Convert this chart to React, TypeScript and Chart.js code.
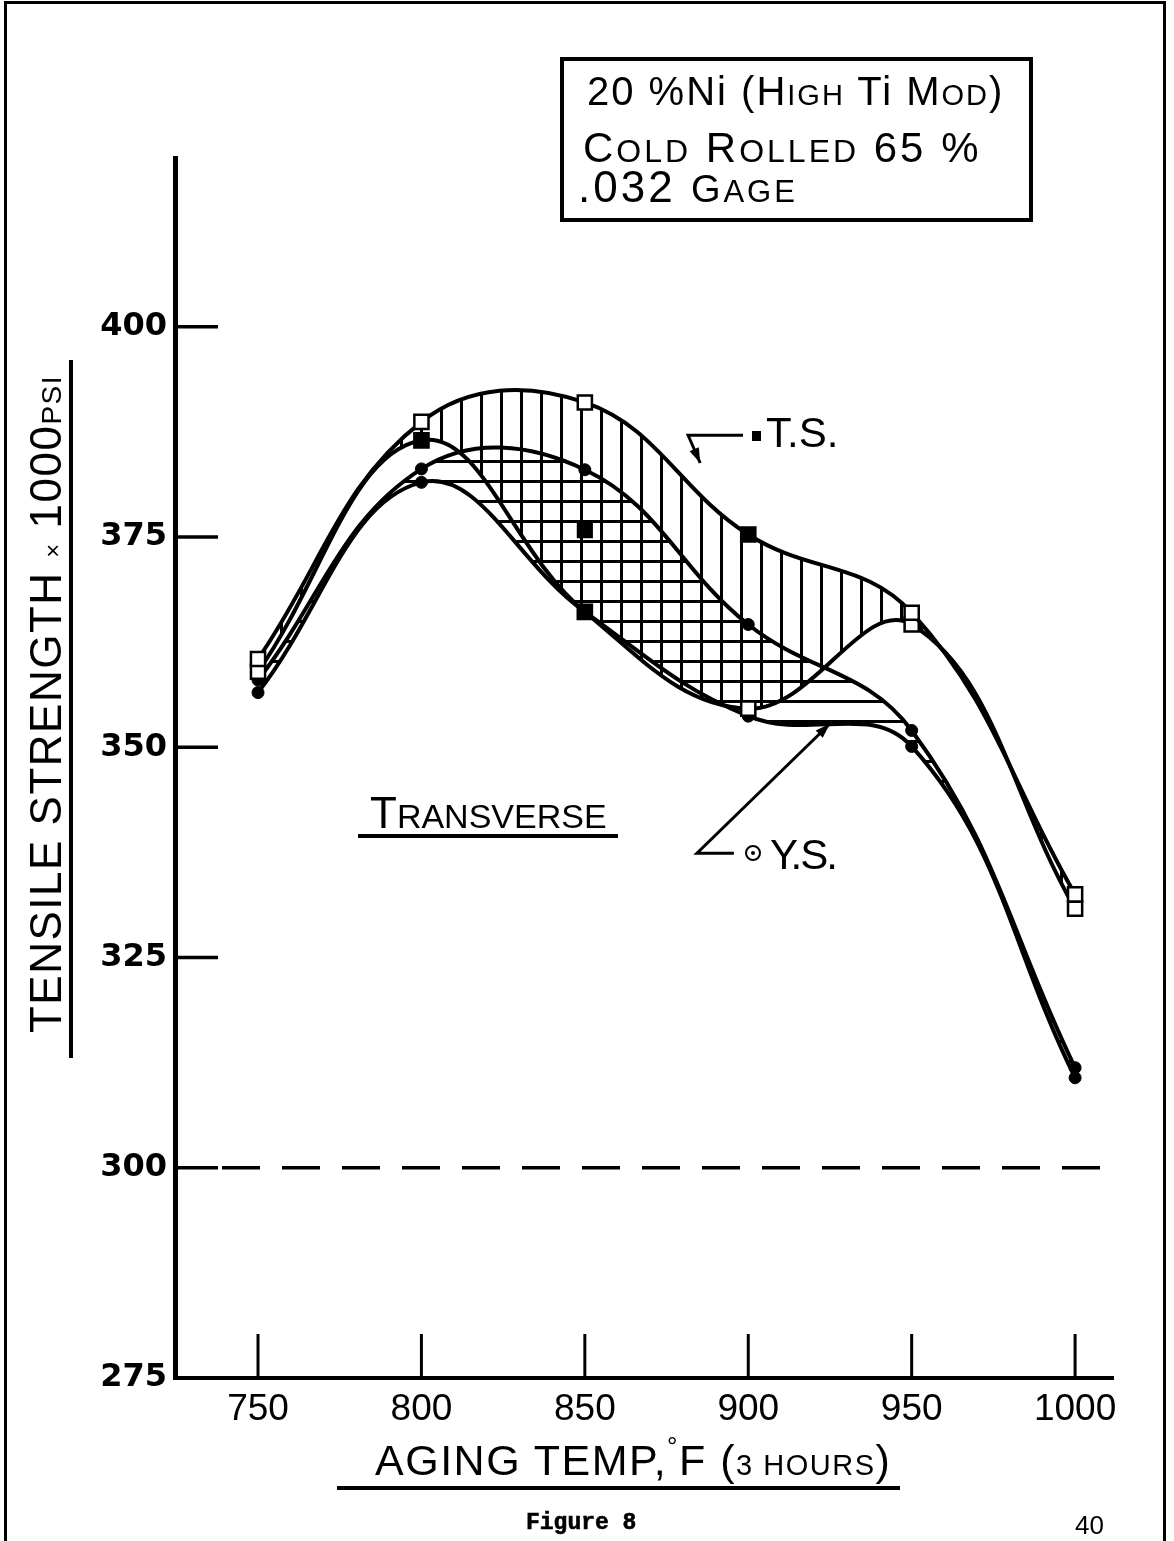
import React, { useEffect, useRef } from "react";
import { Chart, registerables } from "chart.js";

Chart.register(...registerables);

// ---------- data ----------
const TEMPS = [750, 800, 850, 900, 950, 1000];
const TS_UPPER = [360.5, 388.7, 391.0, 375.3, 366.0, 332.5];
const TS_LOWER = [359.0, 386.5, 366.1, 354.6, 364.6, 330.8];
const YS_UPPER = [358.0, 383.1, 383.0, 364.6, 352.0, 311.9];
const YS_LOWER = [356.5, 381.5, 366.1, 353.7, 350.1, 310.7];
const TS_EXTRA_TEMPS = [850];
const TS_EXTRA = [375.8];
const X_TICKS = [750, 800, 850, 900, 950, 1000];
const Y_TICKS = [275, 300, 325, 350, 375, 400];
const REFERENCE_LEVEL = 300;

// which markers are drawn solid
const TS_UPPER_SOLID = [false, false, false, true, false, false];
const TS_LOWER_SOLID = [false, true, true, false, false, false];

// annotation anchors (data coordinates)
const TS_POINTER = { end: [898.4, 387.1], elbow: [881.6, 387.1], tip: [885.3, 383.8] };
const YS_POINTER = { end: [895.6, 337.4], elbow: [884.3, 337.4], tip: [925.0, 352.8] };

const X_MIN = 724.6;
const X_MAX = 1011.6;
const Y_MIN = 275;
const Y_MAX = 420.07;

const W = 1174;
const H = 1541;

function makeHatch(kind: "v" | "h", spacing: number, lw: number): CanvasPattern | string {
  const c = document.createElement("canvas");
  c.width = spacing;
  c.height = spacing;
  const g = c.getContext("2d");
  if (!g) return "rgba(0,0,0,0)";
  g.fillStyle = "#000";
  if (kind === "v") g.fillRect(0, 0, lw, spacing);
  else g.fillRect(0, 0, spacing, lw);
  const p = g.createPattern(c, "repeat");
  return p || "rgba(0,0,0,0)";
}

const pts = (xs: number[], ys: number[]) => xs.map((x, i) => ({ x, y: ys[i] }));

function arrowHead(ctx: CanvasRenderingContext2D, fx: number, fy: number, tx: number, ty: number, len: number, half: number) {
  const ang = Math.atan2(ty - fy, tx - fx);
  const bx = tx - len * Math.cos(ang);
  const by = ty - len * Math.sin(ang);
  ctx.beginPath();
  ctx.moveTo(tx, ty);
  ctx.lineTo(bx + half * Math.sin(ang), by - half * Math.cos(ang));
  ctx.lineTo(bx - half * Math.sin(ang), by + half * Math.cos(ang));
  ctx.closePath();
  ctx.fill();
}

const overlayPlugin = {
  id: "overlay",
  beforeDatasetsDraw(chart: any) {
    const { ctx, chartArea: a, scales } = chart;
    const x = scales.x;
    const y = scales.y;
    ctx.save();
    ctx.strokeStyle = "#000";
    ctx.lineCap = "butt";
    // dashed 300 line
    const py = y.getPixelForValue(REFERENCE_LEVEL);
    ctx.lineWidth = 3.5;
    ctx.setLineDash([38, 22]);
    ctx.beginPath();
    ctx.moveTo(a.left + 47, py);
    ctx.lineTo(a.right, py);
    ctx.stroke();
    ctx.setLineDash([]);
    // inward tick marks
    ctx.lineWidth = 3.5;
    for (const v of Y_TICKS) {
      const p = y.getPixelForValue(v);
      ctx.beginPath();
      ctx.moveTo(a.left, p);
      ctx.lineTo(a.left + 43, p);
      ctx.stroke();
    }
    ctx.lineWidth = 3;
    for (const v of X_TICKS) {
      const p = x.getPixelForValue(v);
      ctx.beginPath();
      ctx.moveTo(p, a.bottom);
      ctx.lineTo(p, a.bottom - 44);
      ctx.stroke();
    }
    ctx.restore();
  },
  afterDatasetsDraw(chart: any) {
    const { ctx, scales } = chart;
    const x = scales.x;
    const y = scales.y;
    const P = (d: number[]) => [x.getPixelForValue(d[0]), y.getPixelForValue(d[1])];
    ctx.save();
    ctx.strokeStyle = "#000";
    ctx.fillStyle = "#000";
    ctx.lineWidth = 3;
    ctx.lineJoin = "miter";
    for (const ptr of [TS_POINTER, YS_POINTER]) {
      const [nx, ny] = P(ptr.end);
      const [ex, ey] = P(ptr.elbow);
      const [tx, ty] = P(ptr.tip);
      ctx.beginPath();
      ctx.moveTo(nx, ny);
      ctx.lineTo(ex, ey);
      ctx.lineTo(tx, ty);
      ctx.stroke();
      arrowHead(ctx, ex, ey, tx, ty, 15, 5);
    }
    ctx.restore();
  },
};

function ChartCanvas() {
  const ref = useRef<HTMLCanvasElement | null>(null);
  useEffect(() => {
    if (!ref.current) return;
    const vPat = makeHatch("v", 20, 3);
    const hPat = makeHatch("h", 20, 3);
    const line = {
      borderColor: "#000",
      borderWidth: 4,
      tension: 0.4,
      pointBorderColor: "#000",
    };
    const chart = new Chart(ref.current, {
      type: "line",
      data: {
        datasets: [
          {
            ...line,
            label: "T.S. upper",
            data: pts(TEMPS, TS_UPPER),
            fill: "+1",
            backgroundColor: vPat as any,
            pointStyle: "rect",
            pointRadius: 10,
            pointBorderWidth: 2.5,
            pointBackgroundColor: TS_UPPER_SOLID.map((s) => (s ? "#000" : "#fff")),
          },
          {
            ...line,
            label: "T.S. lower",
            data: pts(TEMPS, TS_LOWER),
            fill: false,
            pointStyle: "rect",
            pointRadius: 10,
            pointBorderWidth: 2.5,
            pointBackgroundColor: TS_LOWER_SOLID.map((s) => (s ? "#000" : "#fff")),
          },
          {
            ...line,
            label: "Y.S. upper",
            data: pts(TEMPS, YS_UPPER),
            fill: "+1",
            backgroundColor: hPat as any,
            pointStyle: "circle",
            pointRadius: 6,
            pointBorderWidth: 1,
            pointBackgroundColor: "#000",
          },
          {
            ...line,
            label: "Y.S. lower",
            data: pts(TEMPS, YS_LOWER),
            fill: false,
            pointStyle: "circle",
            pointRadius: 6,
            pointBorderWidth: 1,
            pointBackgroundColor: "#000",
          },
          {
            label: "T.S. extra",
            data: pts(TS_EXTRA_TEMPS, TS_EXTRA),
            showLine: false,
            fill: false,
            pointStyle: "rect",
            pointRadius: 10,
            pointBorderWidth: 2,
            pointBorderColor: "#000",
            pointBackgroundColor: "#000",
          },
        ],
      },
      options: {
        animation: false,
        responsive: false,
        events: [],
        layout: { padding: { top: 158, right: 61, left: 0, bottom: 0 } },
        plugins: {
          legend: { display: false },
          tooltip: { enabled: false },
          filler: { drawTime: "beforeDatasetsDraw" } as any,
        },
        scales: {
          x: {
            type: "linear",
            min: X_MIN,
            max: X_MAX,
            afterBuildTicks: (s: any) => {
              s.ticks = X_TICKS.map((v) => ({ value: v }));
            },
            afterFit: (s: any) => {
              s.height = H - 1378;
            },
            grid: { display: false, drawTicks: false },
            border: { display: true, width: 4, color: "#000" },
            ticks: {
              color: "#000",
              padding: 10,
              maxRotation: 0,
              autoSkip: false,
              font: { family: "'Liberation Sans', Arial, sans-serif", size: 37, weight: "normal" },
              callback: (v: any) => String(v),
            },
          },
          y: {
            type: "linear",
            min: Y_MIN,
            max: Y_MAX,
            afterBuildTicks: (s: any) => {
              s.ticks = Y_TICKS.map((v) => ({ value: v }));
            },
            afterFit: (s: any) => {
              s.width = 175;
            },
            grid: { display: false, drawTicks: false },
            border: { display: true, width: 5, color: "#000" },
            ticks: {
              color: "#000",
              padding: 8,
              autoSkip: false,
              font: { family: "'DejaVu Sans', sans-serif", size: 32, weight: "bold" },
              callback: (v: any) => String(v),
            },
          },
        },
      },
      plugins: [overlayPlugin],
    } as any);
    return () => chart.destroy();
  }, []);
  return (
    <canvas
      ref={ref}
      width={W}
      height={H}
      style={{ position: "absolute", left: 0, top: 0, width: W, height: H }}
    />
  );
}

const abs = (s: React.CSSProperties): React.CSSProperties => ({
  position: "absolute",
  whiteSpace: "nowrap",
  lineHeight: 1,
  ...s,
});

export default function App() {
  return (
    <div
      style={{
        position: "absolute",
        left: 0,
        top: 0,
        width: W,
        height: H,
        overflow: "hidden",
        background: "#fff",
        color: "#000",
        fontFamily: "'Liberation Sans', Arial, sans-serif",
      }}
    >
      {/* page frame */}
      <div
        style={{
          position: "absolute",
          left: 4,
          top: 1,
          width: 1162,
          height: 1600,
          borderLeft: "3px solid #000",
          borderTop: "3px solid #000",
          borderRight: "3px solid #000",
          boxSizing: "border-box",
        }}
      />
      <ChartCanvas />

      {/* info box */}
      <div
        style={{
          position: "absolute",
          left: 560,
          top: 57,
          width: 473,
          height: 165,
          border: "4px solid #000",
          boxSizing: "border-box",
        }}
      />
      <div style={abs({ left: 587, top: 71, fontSize: 40, letterSpacing: 2 })}>
        20 %Ni (H<span style={{ fontSize: 29 }}>IGH</span> Ti M<span style={{ fontSize: 29 }}>OD</span>)
      </div>
      <div style={abs({ left: 583, top: 127, fontSize: 42, letterSpacing: 3 })}>
        C<span style={{ fontSize: 32 }}>OLD</span> R<span style={{ fontSize: 32 }}>OLLED</span> 65 %
      </div>
      <div style={abs({ left: 578, top: 165, fontSize: 44, letterSpacing: 3 })}>
        .032 <span style={{ fontSize: 38 }}>G</span>
        <span style={{ fontSize: 31 }}>AGE</span>
      </div>

      {/* TRANSVERSE */}
      <div style={abs({ left: 370, top: 791, fontSize: 44 })}>
        T<span style={{ fontSize: 34 }}>RANSVERSE</span>
      </div>
      <div style={{ position: "absolute", left: 358, top: 834, width: 260, height: 4, background: "#000" }} />

      {/* T.S. label */}
      <div style={{ position: "absolute", left: 752, top: 431, width: 9, height: 10, background: "#000" }} />
      <div style={abs({ left: 766, top: 412, fontSize: 42 })}>T.S.</div>

      {/* Y.S. label */}
      <div
        style={{
          position: "absolute",
          left: 745,
          top: 845,
          width: 16,
          height: 16,
          border: "2.5px solid #000",
          borderRadius: "50%",
          boxSizing: "border-box",
        }}
      />
      <div style={{ position: "absolute", left: 751, top: 851, width: 4, height: 4, borderRadius: "50%", background: "#000" }} />
      <div style={abs({ left: 770, top: 834, fontSize: 42, letterSpacing: -2 })}>Y.S.</div>

      {/* y axis title */}
      <div
        style={abs({
          left: 46 - 350,
          top: 704 - 25,
          width: 700,
          height: 50,
          lineHeight: "50px",
          fontSize: 44,
          textAlign: "center",
          transform: "rotate(-90deg)",
          letterSpacing: 1.5,
        })}
      >
        TENSILE STRENGTH <span style={{ fontSize: 24 }}>×</span> 1000<span style={{ fontSize: 28 }}>PSI</span>
      </div>
      <div style={{ position: "absolute", left: 69, top: 360, width: 4, height: 698, background: "#000" }} />

      {/* x axis title */}
      <div style={abs({ left: 375, top: 1433, fontSize: 43, letterSpacing: 1.5 })}>
        AGING TEMP,<span style={{ fontSize: 26, verticalAlign: 20 }}>°</span>F (<span style={{ fontSize: 29 }}>3 HOURS</span>)
      </div>
      <div style={{ position: "absolute", left: 337, top: 1486, width: 563, height: 4, background: "#000" }} />

      {/* footer */}
      <div
        style={abs({
          left: 526,
          top: 1512,
          fontSize: 23,
          fontWeight: "bold",
          fontFamily: "'Liberation Mono', 'DejaVu Sans Mono', monospace",
          WebkitTextStroke: "0.6px #000",
        })}
      >
        Figure 8
      </div>
      <div style={abs({ left: 1075, top: 1512, fontSize: 26 })}>40</div>
    </div>
  );
}
